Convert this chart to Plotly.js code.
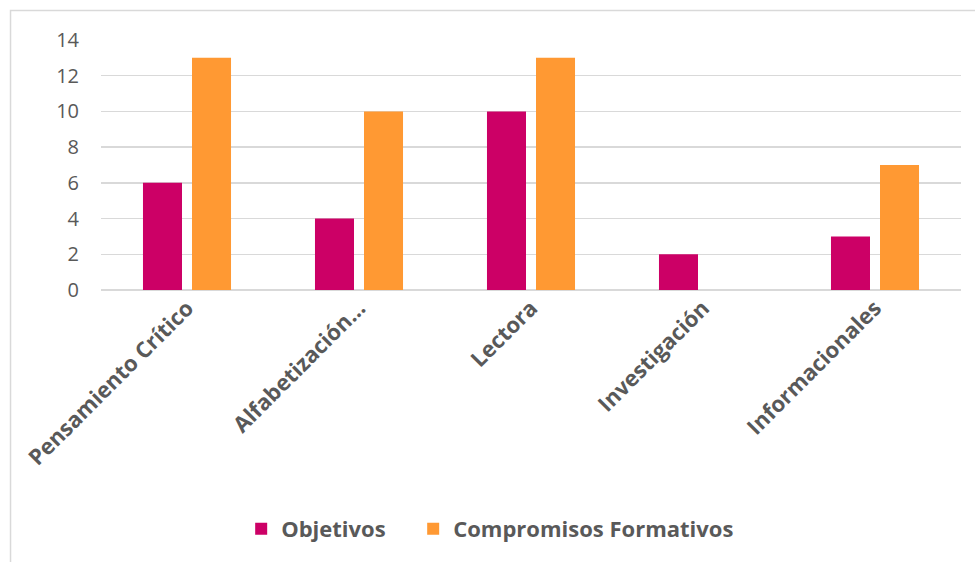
<!DOCTYPE html>
<html>
<head>
<meta charset="utf-8">
<script src="https://cdn.plot.ly/plotly-3.0.1.min.js"></script>
<style>html,body{margin:0;padding:0;background:#fff;}#chart{width:975px;height:562px;}</style>
</head>
<body>
<div id="chart"></div>
<script>
const categories = ["Pensamiento Crítico", "Alfabetización…", "Lectora", "Investigación", "Informacionales"];
const objetivos = [6, 4, 10, 2, 3];
const compromisos = [13, 10, 13, 0, 7];
const seriesNames = ["Objetivos", "Compromisos Formativos"];
const yTicks = [0, 2, 4, 6, 8, 10, 12, 14];

const traces = [
  {type: "bar", name: seriesNames[0], x: categories, y: objetivos,
   marker: {color: "#CC0066"}, hoverinfo: "x+y", legend: "legend"},
  {type: "bar", name: seriesNames[1], x: categories, y: compromisos,
   marker: {color: "#FF9933"}, hoverinfo: "x+y", legend: "legend2"}
];

const legendFont = {size: 22, weight: "bold", color: "#595959", family: "Open Sans, sans-serif"};

const layout = {
  width: 975, height: 562,
  margin: {l: 101, r: 14, t: 40, b: 272},
  paper_bgcolor: "#ffffff", plot_bgcolor: "#ffffff",
  barmode: "group", bargap: 0.43, bargroupgap: 0.204,
  font: {family: "Open Sans, sans-serif", color: "#595959"},
  xaxis: {
    type: "category", tickangle: -45, showgrid: false, showline: false, zeroline: false,
    ticks: "", tickfont: {size: 22, family: "Open Sans, sans-serif", weight: "bold", color: "#595959"},
    automargin: false
  },
  yaxis: {
    range: [0, 14], tickvals: yTicks, ticktext: yTicks.map(String),
    showgrid: true, gridcolor: "#d9d9d9", gridwidth: 1.5,
    zeroline: true, zerolinecolor: "#d9d9d9", zerolinewidth: 1.5,
    showline: false, ticks: "", ticklabelstandoff: 21,
    tickfont: {size: 20, family: "Open Sans, sans-serif", color: "#595959"},
    automargin: false
  },
  showlegend: true,
  legend: {
    orientation: "h", x: 0.163, xanchor: "left", y: -0.956, yanchor: "middle",
    font: legendFont, bgcolor: "rgba(0,0,0,0)"
  },
  legend2: {
    orientation: "h", x: 0.363, xanchor: "left", y: -0.956, yanchor: "middle",
    font: legendFont, bgcolor: "rgba(0,0,0,0)"
  },
  shapes: [{
    type: "rect", xref: "paper", yref: "paper",
    x0: -0.1052, x1: 1.1, y0: -1.3, y1: 1.118,
    line: {color: "#d9d9d9", width: 1.5}, fillcolor: "rgba(0,0,0,0)", layer: "below"
  }]
};

Plotly.newPlot("chart", traces, layout, {displayModeBar: false, staticPlot: true});
</script>
</body>
</html>
